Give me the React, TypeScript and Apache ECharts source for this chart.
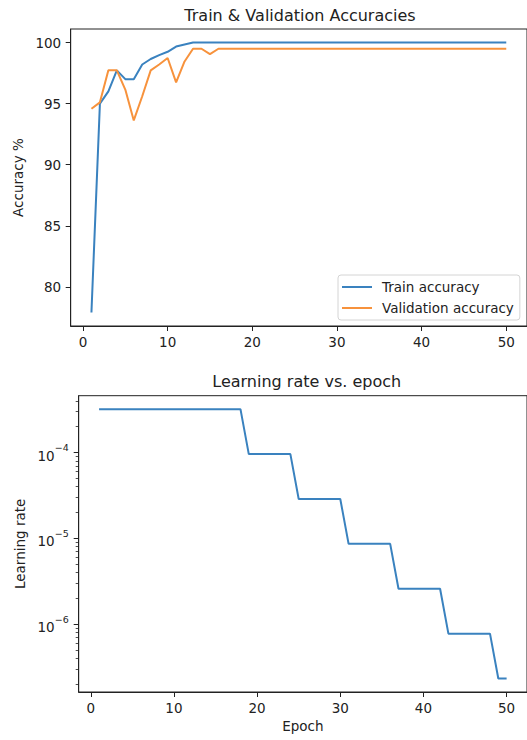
import React, { useEffect, useRef } from 'react';
import * as echarts from 'echarts';

const epochs = [
  1, 2, 3, 4, 5, 6, 7, 8, 9, 10, 11, 12, 13, 14, 15, 16, 17, 18, 19, 20, 21, 22, 23, 24, 25,
  26, 27, 28, 29, 30, 31, 32, 33, 34, 35, 36, 37, 38, 39, 40, 41, 42, 43, 44, 45, 46, 47, 48, 49, 50,
];

const trainAccuracy = [
  77.9, 95.0, 96.0, 97.72, 97.0, 97.0, 98.2, 98.65, 98.97, 99.24, 99.67, 99.84, 100,
  100, 100, 100, 100, 100, 100, 100, 100, 100, 100, 100, 100, 100, 100, 100, 100, 100,
  100, 100, 100, 100, 100, 100, 100, 100, 100, 100, 100, 100, 100, 100, 100, 100, 100, 100, 100, 100,
];

const validationAccuracy = [
  94.58, 95.1, 97.72, 97.72, 96.15, 93.62, 95.6, 97.72, 98.2, 98.73, 96.74, 98.45, 99.49,
  99.49, 99.05, 99.49, 99.49, 99.49, 99.49, 99.49, 99.49, 99.49, 99.49, 99.49, 99.49, 99.49,
  99.49, 99.49, 99.49, 99.49, 99.49, 99.49, 99.49, 99.49, 99.49, 99.49, 99.49, 99.49, 99.49,
  99.49, 99.49, 99.49, 99.49, 99.49, 99.49, 99.49, 99.49, 99.49, 99.49, 99.49,
];

const learningRate = [
  3.2e-4, 3.2e-4, 3.2e-4, 3.2e-4, 3.2e-4, 3.2e-4, 3.2e-4, 3.2e-4, 3.2e-4, 3.2e-4,
  3.2e-4, 3.2e-4, 3.2e-4, 3.2e-4, 3.2e-4, 3.2e-4, 3.2e-4, 3.2e-4,
  9.6e-5, 9.6e-5, 9.6e-5, 9.6e-5, 9.6e-5, 9.6e-5,
  2.88e-5, 2.88e-5, 2.88e-5, 2.88e-5, 2.88e-5, 2.88e-5,
  8.64e-6, 8.64e-6, 8.64e-6, 8.64e-6, 8.64e-6, 8.64e-6,
  2.592e-6, 2.592e-6, 2.592e-6, 2.592e-6, 2.592e-6, 2.592e-6,
  7.776e-7, 7.776e-7, 7.776e-7, 7.776e-7, 7.776e-7, 7.776e-7,
  2.333e-7, 2.333e-7,
];

const epochTicks = [0, 10, 20, 30, 40, 50];
const accuracyTicks = [80, 85, 90, 95, 100];
const lrMajorTicks = [1e-6, 1e-5, 1e-4];
const lrMinorTicks = [
  2e-7, 3e-7, 4e-7, 5e-7, 6e-7, 7e-7, 8e-7, 9e-7,
  2e-6, 3e-6, 4e-6, 5e-6, 6e-6, 7e-6, 8e-6, 9e-6,
  2e-5, 3e-5, 4e-5, 5e-5, 6e-5, 7e-5, 8e-5, 9e-5,
  2e-4, 3e-4, 4e-4,
];

const FONT = 'DejaVu Sans';
const TEXT = '#222';
const SPINE = '#222';
const BLUE = '#3a82bf';
const ORANGE = '#f7923c';

// matplotlib-like 5% margins
const xLo = epochs[0] - 0.05 * (epochs[epochs.length - 1] - epochs[0]);
const xHi = epochs[epochs.length - 1] + 0.05 * (epochs[epochs.length - 1] - epochs[0]);
const accAll = trainAccuracy.concat(validationAccuracy);
const accMinV = Math.min(...accAll);
const accMaxV = Math.max(...accAll);
const accLo = accMinV - 0.05 * (accMaxV - accMinV);
const accHi = accMaxV + 0.05 * (accMaxV - accMinV);
const lgMin = Math.log10(Math.min(...learningRate));
const lgMax = Math.log10(Math.max(...learningRate));
const lrLo = Math.pow(10, lgMin - 0.05 * (lgMax - lgMin));
const lrHi = Math.pow(10, lgMax + 0.05 * (lgMax - lgMin));

const tickLabel = { fontFamily: FONT, fontSize: 13.5, color: TEXT };

function xAxisCfg(gridIndex: number, name?: string) {
  return {
    type: 'value',
    gridIndex,
    min: xLo,
    max: xHi,
    name: name || '',
    nameLocation: 'middle',
    nameGap: 27,
    nameTextStyle: { fontFamily: FONT, fontSize: 13.5, color: TEXT },
    axisLine: { show: true, onZero: false, lineStyle: { color: SPINE, width: 1 } },
    axisTick: { show: true, inside: false, length: 5, lineStyle: { color: SPINE, width: 1 }, customValues: epochTicks },
    axisLabel: { ...tickLabel, margin: 9, customValues: epochTicks },
    splitLine: { show: false },
  };
}

const option = {
  animation: false,
  backgroundColor: '#fff',
  title: [
    {
      text: 'Train & Validation Accuracies',
      left: 300,
      top: 7,
      padding: 0,
      textAlign: 'center',
      textStyle: { fontFamily: FONT, fontSize: 16, fontWeight: 'normal', color: TEXT },
    },
    {
      text: 'Learning rate vs. epoch',
      left: 306.7,
      top: 373,
      padding: 0,
      textAlign: 'center',
      textStyle: { fontFamily: FONT, fontSize: 16, fontWeight: 'normal', color: TEXT },
    },
  ],
  grid: [
    { left: 70.7, top: 29, width: 458.1, height: 297, show: true, borderColor: SPINE, borderWidth: 1, backgroundColor: 'transparent' },
    { left: 78.7, top: 395.7, width: 456.1, height: 296.3, show: true, borderColor: SPINE, borderWidth: 1, backgroundColor: 'transparent' },
  ],
  legend: {
    orient: 'vertical',
    left: 338,
    top: 275,
    data: [
      { name: 'Train accuracy', icon: 'rect' },
      { name: 'Validation accuracy', icon: 'rect' },
    ],
    itemWidth: 30,
    itemHeight: 2,
    itemGap: 5,
    padding: [4, 6, 4, 4],
    borderColor: '#d4d4d4',
    borderWidth: 1,
    borderRadius: 3,
    backgroundColor: 'rgba(255,255,255,0.8)',
    textStyle: { fontFamily: FONT, fontSize: 13.5, color: TEXT, lineHeight: 16, padding: [0, 0, 0, 5] },
  },
  xAxis: [xAxisCfg(0), xAxisCfg(1, 'Epoch')],
  yAxis: [
    {
      type: 'value',
      gridIndex: 0,
      min: accLo,
      max: accHi,
      name: 'Accuracy %',
      nameLocation: 'middle',
      nameGap: 44,
      nameTextStyle: { fontFamily: FONT, fontSize: 13.5, color: TEXT },
      axisLine: { show: true, onZero: false, lineStyle: { color: SPINE, width: 1 } },
      axisTick: { show: true, inside: false, length: 5, lineStyle: { color: SPINE, width: 1 }, customValues: accuracyTicks },
      axisLabel: { ...tickLabel, margin: 9.5, customValues: accuracyTicks },
      splitLine: { show: false },
    },
    {
      type: 'log',
      logBase: 10,
      gridIndex: 1,
      position: 'left',
      min: lrLo,
      max: lrHi,
      name: 'Learning rate',
      nameLocation: 'middle',
      nameGap: 50,
      nameTextStyle: { fontFamily: FONT, fontSize: 13.5, color: TEXT },
      axisLine: { show: true, onZero: false, lineStyle: { color: SPINE, width: 1 } },
      axisTick: { show: true, inside: false, length: 5, lineStyle: { color: SPINE, width: 1 }, customValues: lrMajorTicks },
      axisLabel: {
        margin: 10,
        customValues: lrMajorTicks,
        formatter: (v: number) => {
          const e = Math.round(Math.log10(v));
          return '{base|10}{sup|' + (e < 0 ? '\u2212' : '') + Math.abs(e) + '}';
        },
        rich: {
          base: { fontFamily: FONT, fontSize: 13.5, color: TEXT, verticalAlign: 'bottom', lineHeight: 20 },
          sup: { fontFamily: FONT, fontSize: 9.5, color: TEXT, verticalAlign: 'top', lineHeight: 20 },
        },
      },
      splitLine: { show: false },
    },
    {
      type: 'log',
      logBase: 10,
      gridIndex: 1,
      position: 'left',
      min: lrLo,
      max: lrHi,
      axisLine: { show: false, onZero: false },
      axisTick: { show: true, inside: false, length: 3, lineStyle: { color: SPINE, width: 0.8 }, customValues: lrMinorTicks },
      axisLabel: { show: false },
      splitLine: { show: false },
    },
  ],
  series: [
    {
      name: 'Train accuracy',
      type: 'line',
      xAxisIndex: 0,
      yAxisIndex: 0,
      data: epochs.map((e, i) => [e, trainAccuracy[i]]),
      showSymbol: false,
      lineStyle: { color: BLUE, width: 2 },
      itemStyle: { color: BLUE },
    },
    {
      name: 'Validation accuracy',
      type: 'line',
      xAxisIndex: 0,
      yAxisIndex: 0,
      data: epochs.map((e, i) => [e, validationAccuracy[i]]),
      showSymbol: false,
      lineStyle: { color: ORANGE, width: 2 },
      itemStyle: { color: ORANGE },
    },
    {
      name: 'Learning rate',
      type: 'line',
      xAxisIndex: 1,
      yAxisIndex: 1,
      data: epochs.map((e, i) => [e, learningRate[i]]),
      showSymbol: false,
      lineStyle: { color: BLUE, width: 2 },
      itemStyle: { color: BLUE },
    },
  ],
};

export default function App() {
  const ref = useRef<HTMLDivElement>(null);
  useEffect(() => {
    const chart = echarts.init(ref.current as HTMLDivElement, null, { renderer: 'svg' });
    chart.setOption(option as any);
    return () => chart.dispose();
  }, []);
  return (
    <div
      ref={ref}
      style={{ position: 'absolute', left: 0, top: 0, width: 527, height: 740, background: '#fff' }}
    />
  );
}
